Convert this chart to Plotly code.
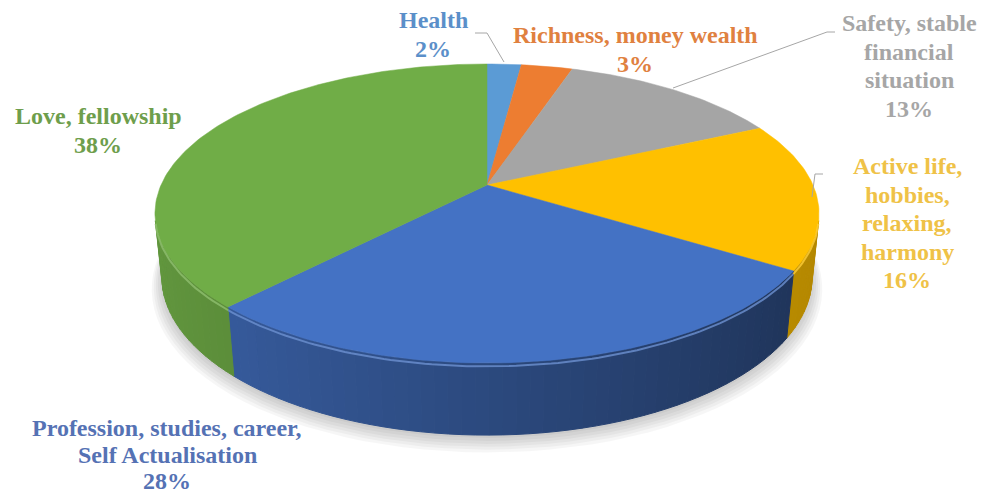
import math
import plotly.graph_objects as go

# Life values survey: share of answers per category (clockwise from 12 o'clock)
categories = ["Health", "Richness, money wealth", "Safety, stable financial situation",
              "Active life, hobbies, relaxing, harmony", "Profession, studies, career, Self Actualisation",
              "Love, fellowship"]
values = [2, 3, 13, 16, 28, 38]

# Label text broken into display lines (percent line is appended from values)
label_lines = [
    ["Health"],
    ["Richness, money wealth"],
    ["Safety, stable", "financial", "situation"],
    ["Active life,", "hobbies,", "relaxing,", "harmony"],
    ["Profession, studies, career,", "Self Actualisation"],
    ["Love, fellowship"],
]

# Styling
face_colors = ["#5b9bd5", "#ed7d31", "#a5a5a5", "#ffc000", "#4472c4", "#70ad47"]
text_colors = ["#5b8fc9", "#e0813f", "#a6a6a6", "#efc247", "#5572b4", "#6e9e4c"]
side_shade_strength = [1.0, 1.0, 1.0, 0.55, 1.05, 0.9]

# Label anchors (pixel space): x centre, y of first line centre, line gap
label_anchor = [(433, 20, 28.5), (635, 35, 28.5), (909, 23, 28.5),
                (907, 166, 28.5), (167, 428, 26.5), (98, 116, 28.5)]

# Leader lines (pixel space)
leaders = [
    [(475, 33), (487, 33), (504, 62)],
    [(835, 32), (827, 32), (673, 88)],
    [(823, 174), (815, 174), (812, 197)],
]

W, H = 985, 496

# Perspective camera for the tilted pie disc
CX, CY = 487.0, 185.0
FOCAL = 1534.0
SIN_A, COS_A = 0.442, 0.897
DIST = 4.706
THICK = 0.217


def project(theta_deg, y_world, scale=1.0):
    t = math.radians(theta_deg)
    X = scale * math.sin(t)
    Z = scale * math.cos(t)
    yc = Z * SIN_A + y_world * COS_A
    zc = DIST + Z * COS_A - y_world * SIN_A
    return CX + FOCAL * X / zc, CY - FOCAL * yc / zc


def hex_rgb(c):
    c = c.lstrip("#")
    return tuple(int(c[i:i + 2], 16) for i in (0, 2, 4))


def scaled(c, f):
    r, g, b = hex_rgb(c)
    return "rgb(%d,%d,%d)" % tuple(max(0, min(255, round(v * f))) for v in (r, g, b))


def lighten(c, a):
    r, g, b = hex_rgb(c)
    return "rgb(%d,%d,%d)" % tuple(round(v + (255 - v) * a) for v in (r, g, b))


def arc(a0, a1, y_world, step=1.0, scale=1.0):
    n = max(2, int(abs(a1 - a0) / step) + 1)
    pts = [project(a0 + (a1 - a0) * i / (n - 1), y_world, scale) for i in range(n)]
    return [p[0] for p in pts], [p[1] for p in pts]


total = sum(values)
bounds = []
acc = 0.0
for v in values:
    a0 = acc / total * 360.0
    acc += v
    bounds.append((a0, acc / total * 360.0))

# Side wall is visible where its outward normal faces the camera
vis_lim = math.degrees(math.acos(-1.0 / (DIST * COS_A)))
VIS0, VIS1 = vis_lim, 360.0 - vis_lim

fig = go.Figure()

# Soft shadow under the disc
for k in range(6):
    xs, ys = arc(0, 360, -THICK, step=3, scale=1.0 + 0.006 * k)
    ys = [y + 3 + 1.5 * k for y in ys]
    fig.add_trace(go.Scatter(x=xs, y=ys, mode="lines", fill="toself",
                             fillcolor="rgba(0,0,0,0.035)", line=dict(width=0),
                             hoverinfo="skip"))

# Side wall, split into thin facets shaded by their orientation
STEP = 2.0
for i, (a0, a1) in enumerate(bounds):
    s0, s1 = max(a0, VIS0), min(a1, VIS1)
    if s1 <= s0:
        continue
    n = max(1, math.ceil((s1 - s0) / STEP))
    for j in range(n):
        t0 = s0 + (s1 - s0) * j / n
        t1 = s0 + (s1 - s0) * (j + 1) / n
        tm = math.radians((t0 + t1) / 2)
        light = 0.66 - 0.2 * math.sin(tm)
        f = 1 - side_shade_strength[i] * (1 - light)
        col = scaled(face_colors[i], f)
        xt, yt = arc(t0, t1, 0.0, step=1.0)
        xb, yb = arc(t1, t0, -THICK, step=1.0)
        fig.add_trace(go.Scatter(x=xt + xb + [xt[0]], y=yt + yb + [yt[0]], mode="lines",
                                 fill="toself", fillcolor=col, line=dict(color=col, width=1),
                                 hoverinfo="skip"))

# Top faces of the slices
for i, (a0, a1) in enumerate(bounds):
    xs, ys = arc(a0, a1, 0.0, step=1.0)
    px = [CX] + xs + [CX]
    py = [CY] + ys + [CY]
    fig.add_trace(go.Scatter(x=px, y=py, mode="lines", fill="toself",
                             fillcolor=face_colors[i],
                             line=dict(color=face_colors[i], width=0.5),
                             hoverinfo="skip"))

# Bevel highlight along the front rim
for i, (a0, a1) in enumerate(bounds):
    s0, s1 = max(a0, VIS0), min(a1, VIS1)
    if s1 <= s0:
        continue
    xs, ys = arc(s0, s1, -0.01, step=1.0)
    fig.add_trace(go.Scatter(x=xs, y=ys, mode="lines",
                             line=dict(color=lighten(face_colors[i], 0.22), width=2),
                             opacity=0.8, hoverinfo="skip"))

# Leader lines
for pts in leaders:
    fig.add_trace(go.Scatter(x=[p[0] for p in pts], y=[p[1] for p in pts], mode="lines",
                             line=dict(color="#a6a6a6", width=1), hoverinfo="skip"))

# Data labels, one annotation per text line
for i, lines in enumerate(label_lines):
    x0, y0, gap = label_anchor[i]
    all_lines = lines + ["%d%%" % values[i]]
    for k, txt in enumerate(all_lines):
        fig.add_annotation(x=x0, y=y0 + k * gap, text="<b>%s</b>" % txt,
                           showarrow=False, xanchor="center", yanchor="middle",
                           font=dict(family="Liberation Serif", size=24,
                                     color=text_colors[i]))

fig.update_layout(
    width=W, height=H,
    margin=dict(l=0, r=0, t=0, b=0),
    paper_bgcolor="white", plot_bgcolor="white",
    showlegend=False,
    xaxis=dict(range=[0, W], visible=False, fixedrange=True),
    yaxis=dict(range=[H, 0], visible=False, fixedrange=True),
)

fig.write_html("out.html")
